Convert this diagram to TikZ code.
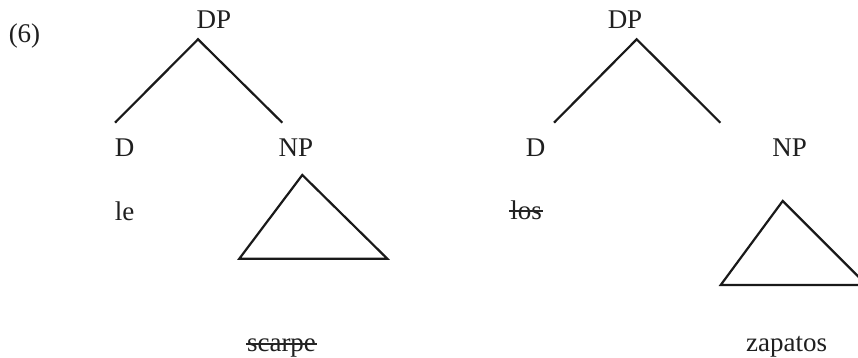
\documentclass[tikz,border=0pt]{standalone}
\usepackage{fontspec}
\setmainfont{Liberation Serif}
\begin{document}
\begin{tikzpicture}[x=1pt,y=-1pt,
  lbl/.style={anchor=base,inner sep=0pt,font=\fontsize{27}{32}\selectfont,text=black!88},
  branch/.style={line width=2.2pt,line cap=butt,line join=miter,draw=black!90},
  strike/.style={line width=1.1pt,draw=black!85}]
\useasboundingbox (0,0) rectangle (858,358);
\begin{scope}
\clip (0,0) rectangle (858,358);
% example number
\node[lbl] (ex) at (24.5,43) {(6)};
% left tree
\node[lbl] (dpA) at (214,29) {DP};
\node[lbl] (dA) at (124.5,157) {D};
\node[lbl] (npA) at (296,157) {NP};
\node[lbl] (leA) at (124.5,220.5) {le};
\node[lbl] (scA) at (281.5,351.5) {scarpe};
\coordinate (apA) at (198,39.3);
\coordinate (lA) at (115,122.7);
\coordinate (rA) at (282.3,122.7);
\draw[branch] (lA) -- (apA) -- (rA);
\coordinate (tA1) at (302.3,175);
\coordinate (tA2) at (239.3,258.7);
\coordinate (tA3) at (387.3,258.7);
\draw[branch] (tA1) -- (tA2) -- (tA3) -- cycle;
\draw[strike] ([xshift=-1pt]scA.west |- 0,344) -- ([xshift=1pt]scA.east |- 0,344);
% right tree
\node[lbl] (dpB) at (625,29) {DP};
\node[lbl] (dB) at (535.5,157) {D};
\node[lbl] (npB) at (789.5,157) {NP};
\node[lbl] (losB) at (526,219.5) {los};
\node[lbl] (zaB) at (786.7,351.5) {zapatos};
\coordinate (apB) at (636.7,39.3);
\coordinate (lB) at (554,122.7);
\coordinate (rB) at (720.3,122.7);
\draw[branch] (lB) -- (apB) -- (rB);
\coordinate (tB1) at (782.7,201);
\coordinate (tB2) at (720.7,285);
\coordinate (tB3) at (866.7,285);
\draw[branch] (tB1) -- (tB2) -- (tB3) -- cycle;
\draw[strike] ([xshift=-1pt]losB.west |- 0,211) -- ([xshift=1pt]losB.east |- 0,211);
\end{scope}
\end{tikzpicture}
\end{document}
